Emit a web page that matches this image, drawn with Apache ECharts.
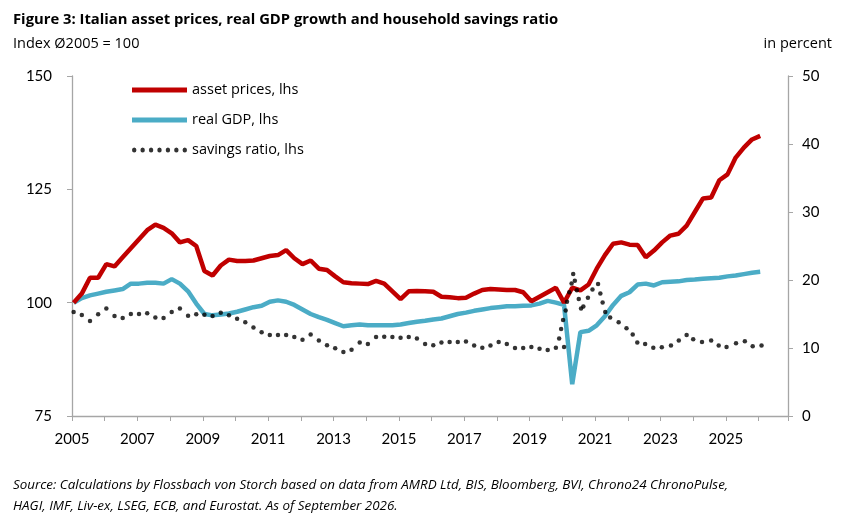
<!DOCTYPE html>
<html><head><meta charset="utf-8">
<script src="https://cdn.jsdelivr.net/npm/echarts@6/dist/echarts.min.js"></script>
<style>html,body{margin:0;padding:0;background:#fff}#c{width:845px;height:516px}</style>
</head><body><div id="c"></div>
<script>
const startYear = 2005;
const assetPrices = [100,102,105.5,105.5, 108.5,108,110,112, 114,116,117.2,116.5, 115.3,113.3,113.8,112.5,
 107,106,108.2,109.5, 109.2,109.2,109.3,109.8, 110.3,110.5,111.6,109.8, 108.5,109.3,107.5,107.2,
 105.8,104.5,104.3,104.2, 104.1,104.8,104.2,102.5, 100.8,102.5,102.6,102.5, 102.4,101.3,101.2,101,
 101.1,102,102.8,103, 102.9,102.8,102.8,102.3, 100.3,101.3,102.3,103.3, 100,103.3,102.7,104,
 107.5,110.5,113,113.3, 112.8,112.7,110,111.5, 113.3,114.8,115.2,117, 120,123,123.2,127,
 128.3,132,134.2,136, 136.8];
const realGDP = [100,101,101.6,102, 102.4,102.7,103,104.2, 104.2,104.4,104.4,104.2, 105.2,104.2,102.5,99.8,
 97.5,97.2,97.4,97.6, 98,98.5,99,99.3, 100.2,100.5,100.2,99.5, 98.5,97.5,96.8,96.2,
 95.5,94.8,95,95.2, 95,95,95,95, 95.2,95.5,95.8,96, 96.3,96.5,97,97.5,
 97.8,98.2,98.5,98.8, 99,99.2,99.2,99.3, 99.4,99.8,100.4,100, 99.5,82,93.5,93.8,
 95,97,99.5,101.5, 102.3,104,104.2,103.8, 104.5,104.6,104.7,105, 105.1,105.3,105.4,105.5,
 105.8,106,106.3,106.6, 106.8];
const savingsQuarterly = [15.3,14.85,13.97,14.95, 15.8,14.7,14.4,15.0, 15.0,15.1,14.5,14.4, 15.3,15.8,14.75,14.95,
 14.9,14.7,15.2,14.8, 14.3,13.8,13.0,12.3, 11.9,11.9,11.9,11.6, 11.2,12.0,11.1,10.4,
 9.95,9.4,9.75,10.8, 10.6,11.6,11.65,11.6, 11.5,11.6,11.4,10.6, 10.4,10.8,10.9,
 10.9,10.95,10.35,10.05,10.35,10.9,10.6,10.0,10.0,10.15,9.9,9.7,10.05,10.15];
const savingsLateDates = [2019.90,2019.96,2020.02,2020.10,2020.14,2020.21,2020.28,2020.33,2020.38,2020.44,2020.50,2020.57,2020.64,
 2020.78,2020.92,2021.09,2021.16,2021.23,2021.31,2021.46,2021.72,2021.96,2022.15,2022.29,2022.53,2022.78,
 2023.04,2023.32,2023.56,2023.80,2024.0,2024.27,2024.55,2024.78,2025.02,2025.31,2025.58,2025.82,2026.09];
const savingsLate = [11.4,12.8,14.1,15.5,16.8,18.2,19.5,20.9,19.9,18.5,17.2,15.8,16.1,
 17.4,18.6,19.4,18.0,16.7,15.3,14.5,13.8,12.9,12.0,10.8,10.6,10.05,
 10.1,10.35,11.1,11.9,11.3,10.9,11.1,10.35,10.15,10.7,11.0,10.25,10.35];

const q = i => startYear + 0.25*i + 0.05;
const assetData = assetPrices.map((v,i)=>[q(i),v]);
const gdpData = realGDP.map((v,i)=>[q(i),v]);
const savData = savingsQuarterly.map((v,i)=>[q(i),v]).concat(savingsLate.map((v,i)=>[savingsLateDates[i],v]));

const font = 'Lato';
const tfont = 'Open Sans';
const axisLine = {show:true, lineStyle:{color:'#A6A6A6', width:1.3}};
const dot = k => 'M'+k+',0.5a0.5,0.5 0 1,0 1,0a0.5,0.5 0 1,0 -1,0z';
const chart = echarts.init(document.getElementById('c'));
chart.setOption({
  animation:false,
  textStyle:{fontFamily:font},
  grid:{left:72,right:57,top:76,bottom:100,containLabel:false},
  title:[
    {text:'Figure 3: Italian asset prices, real GDP growth and household savings ratio',left:8,top:7,textStyle:{fontFamily:tfont,fontSize:14.8,fontWeight:'bold',color:'#000'}},
    {text:'Index Ø2005 = 100',left:8,top:31,textStyle:{fontFamily:tfont,fontSize:14.5,fontWeight:'normal',color:'#000'}},
    {text:'in percent',right:8,top:31,textStyle:{fontFamily:tfont,fontSize:14.5,fontWeight:'normal',color:'#000'}},
    {text:'Source: Calculations by Flossbach von Storch based on data from AMRD Ltd, BIS, Bloomberg, BVI, Chrono24 ChronoPulse,\nHAGI, IMF, Liv-ex, LSEG, ECB, and Eurostat. As of September 2026.',left:8,top:470,
     textStyle:{fontFamily:tfont,fontSize:13.4,fontStyle:'italic',fontWeight:'normal',color:'#000',lineHeight:21}}
  ],
  legend:{
    orient:'vertical',left:127,top:76,itemWidth:55,itemHeight:5,itemGap:12,symbolKeepAspect:false,
    textStyle:{fontFamily:tfont,fontSize:14.5,color:'#000',lineHeight:18},
    data:[
      {name:'asset prices, lhs',icon:'rect'},
      {name:'real GDP, lhs',icon:'rect'},
      {name:'savings ratio, lhs',icon:'path://'+[0,1.9,3.8,5.7,7.6,9.5,11.4].map(dot).join(' '),itemStyle:{color:'#000'}}
    ]
  },
  xAxis:{type:'value',min:2005,max:2026.9,interval:1,
    axisLine:axisLine,axisTick:{show:true,length:5,lineStyle:{color:'#A6A6A6'}},splitLine:{show:false},
    axisLabel:{fontFamily:font,fontSize:15,color:'#000',margin:16,
      formatter:v=>((Math.round(v)-2005)%2===0 && v<2026.5)?String(Math.round(v)):''}},
  yAxis:[
    {type:'value',min:75,max:150,interval:25,axisLine:axisLine,
     axisTick:{show:true,length:5,lineStyle:{color:'#A6A6A6'}},splitLine:{show:false},
     axisLabel:{fontFamily:font,fontSize:15,color:'#000',margin:20}},
    {type:'value',min:0,max:50,interval:10,position:'right',axisLine:axisLine,
     axisTick:{show:true,length:5,lineStyle:{color:'#A6A6A6'}},splitLine:{show:false},
     axisLabel:{fontFamily:font,fontSize:15,color:'#000',margin:14}}
  ],
  series:[
    {name:'asset prices, lhs',type:'line',data:assetData,showSymbol:false,z:3,
     itemStyle:{color:'#C00000'},lineStyle:{color:'#C00000',width:4.5}},
    {name:'real GDP, lhs',type:'line',data:gdpData,showSymbol:false,z:2,
     itemStyle:{color:'#4BACC6'},lineStyle:{color:'#4BACC6',width:4.5}},
    {name:'savings ratio, lhs',type:'scatter',yAxisIndex:1,data:savData,symbol:'circle',symbolSize:4.5,z:4,
     itemStyle:{color:'#000'}}
  ]
});
</script></body></html>
